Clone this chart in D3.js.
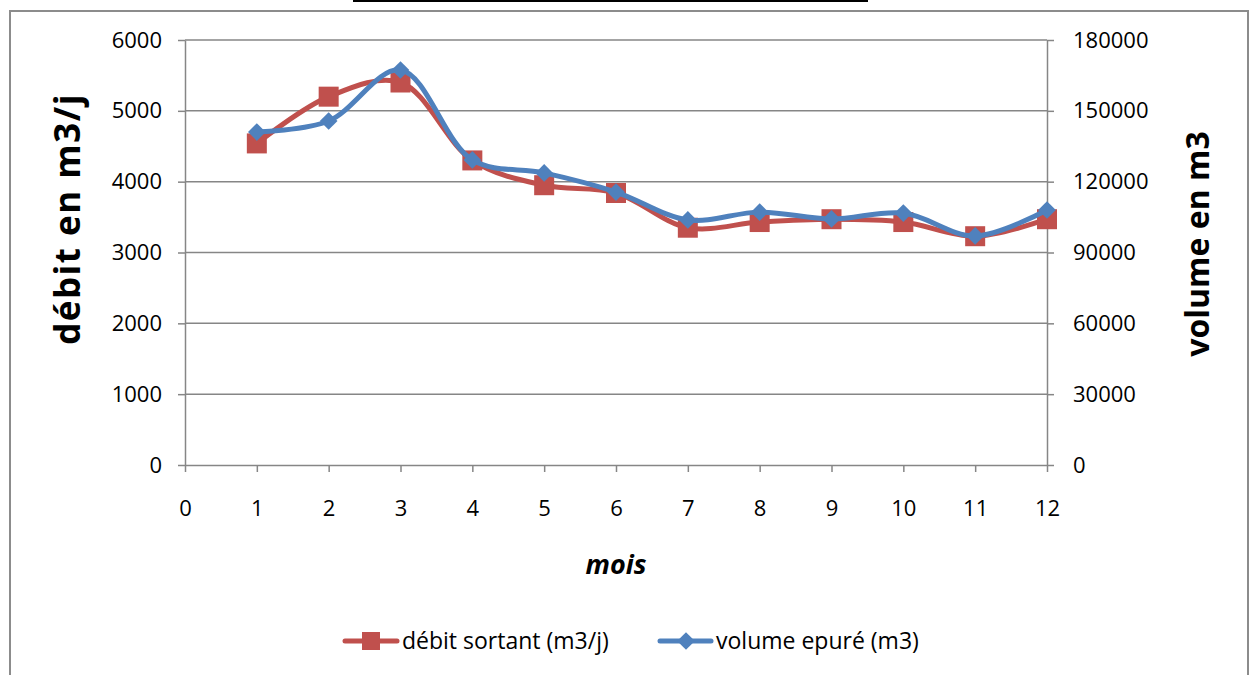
<!DOCTYPE html>
<html><head><meta charset="utf-8">
<script src="https://cdn.jsdelivr.net/npm/d3@7"></script>
<style>body{margin:0;background:#fff;}svg{display:block;}</style>
</head><body>
<script>
const months = [1,2,3,4,5,6,7,8,9,10,11,12];
const debitSortant = [4540,5200,5400,4300,3950,3840,3350,3430,3470,3430,3230,3470];
const volumeEpure = [141000,145700,167300,129200,123700,115600,103800,107100,104200,106700,97000,108000];
const xTicks = [0,1,2,3,4,5,6,7,8,9,10,11,12];
const yLeftTicks = [0,1000,2000,3000,4000,5000,6000];
const yRightTicks = [0,30000,60000,90000,120000,150000,180000];
const seriesNames = ["débit sortant (m3/j)","volume epuré (m3)"];

const W=1251,H=675;
const font="'Open Sans', 'Noto Sans', sans-serif";
const svg=d3.select("body").append("svg").attr("width",W).attr("height",H);
svg.append("rect").attr("x",0).attr("y",0).attr("width",W).attr("height",H).attr("fill","#fff");
// top black line
svg.append("line").attr("x1",353).attr("x2",868).attr("y1",1).attr("y2",1).attr("stroke","#000").attr("stroke-width",2);
// outer border
svg.append("rect").attr("x",10).attr("y",11).attr("width",1238).attr("height",680).attr("fill","none").attr("stroke","#8c8c8c").attr("stroke-width",2);

const L=185,R=1047,T=40,B=465;
const x=d3.scaleLinear().domain([0,12]).range([L,R]);
const yL=d3.scaleLinear().domain([0,6000]).range([B,T]);
const yR=d3.scaleLinear().domain([0,180000]).range([B,T]);
const grid="#868686";

// gridlines
svg.append("g").selectAll("line").data(yLeftTicks.filter(d=>d>0)).join("line")
 .attr("x1",L).attr("x2",R).attr("y1",d=>yL(d)).attr("y2",d=>yL(d)).attr("stroke",grid).attr("stroke-width",1.5);

function styleAxis(g){
  g.select(".domain").attr("stroke",grid).attr("stroke-width",1.5);
  g.selectAll(".tick line").attr("stroke",grid).attr("stroke-width",1.5);
  g.selectAll(".tick text").attr("fill","#000").style("font-family",font).style("font-size","22px");
}
const gl=svg.append("g").attr("transform",`translate(${L},0)`)
 .call(d3.axisLeft(yL).tickValues(yLeftTicks).tickSize(7).tickSizeOuter(0).tickPadding(16).tickFormat(d3.format("d")));
styleAxis(gl);
const gr=svg.append("g").attr("transform",`translate(${R},0)`)
 .call(d3.axisRight(yR).tickValues(yRightTicks).tickSize(7).tickSizeOuter(0).tickPadding(19).tickFormat(d3.format("d")));
styleAxis(gr);
const gx=svg.append("g").attr("transform",`translate(0,${B})`)
 .call(d3.axisBottom(x).tickValues(xTicks).tickSize(7).tickSizeOuter(0).tickPadding(28).tickFormat(d3.format("d")));
styleAxis(gx);

// titles
svg.append("text").attr("transform",`translate(80,219) rotate(-90)`).attr("text-anchor","middle")
 .style("font-family",font).style("font-weight","bold").style("font-size","35px").style("letter-spacing","1.5px").text("débit en m3/j");
svg.append("text").attr("transform",`translate(1209,244) rotate(-90)`).attr("text-anchor","middle")
 .style("font-family",font).style("font-weight","bold").style("font-size","32px").text("volume en m3");
svg.append("text").attr("x",616).attr("y",574).attr("text-anchor","middle")
 .style("font-family",font).style("font-weight","bold").style("font-style","italic").style("font-size","27px").text("mois");

const red="#C0504D", blue="#4F81BD";
const lineL=d3.line().x((d,i)=>x(months[i])).y(d=>yL(d)).curve(d3.curveCatmullRom.alpha(0.5));
const lineR=d3.line().x((d,i)=>x(months[i])).y(d=>yR(d)).curve(d3.curveCatmullRom.alpha(0.5));

svg.append("path").attr("d",lineL(debitSortant)).attr("fill","none").attr("stroke",red).attr("stroke-width",5).attr("stroke-linejoin","round");
svg.append("g").selectAll("rect").data(debitSortant).join("rect")
 .attr("x",(d,i)=>x(months[i])-10).attr("y",d=>yL(d)-10).attr("width",20).attr("height",20).attr("fill",red);

svg.append("path").attr("d",lineR(volumeEpure)).attr("fill","none").attr("stroke",blue).attr("stroke-width",5).attr("stroke-linejoin","round");
const diamond=d3.symbol().type(d3.symbolDiamond2).size(200);
svg.append("g").selectAll("path").data(volumeEpure).join("path")
 .attr("d",diamond).attr("transform",(d,i)=>`translate(${x(months[i])},${yR(d)})`).attr("fill",blue);

// legend
const ly=641;
const lg=svg.append("g");
lg.append("line").attr("x1",345).attr("x2",397).attr("y1",ly).attr("y2",ly).attr("stroke",red).attr("stroke-width",5).attr("stroke-linecap","round");
lg.append("rect").attr("x",362).attr("y",ly-9).attr("width",18).attr("height",18).attr("fill",red);
lg.append("text").attr("x",402).attr("y",ly+8).style("font-family",font).style("font-size","23px").text(seriesNames[0]);
lg.append("line").attr("x1",660).attr("x2",711).attr("y1",ly).attr("y2",ly).attr("stroke",blue).attr("stroke-width",5).attr("stroke-linecap","round");
lg.append("path").attr("d",diamond).attr("transform",`translate(686,${ly})`).attr("fill",blue);
lg.append("text").attr("x",716).attr("y",ly+8).style("font-family",font).style("font-size","23px").text(seriesNames[1]);
</script>
</body></html>
